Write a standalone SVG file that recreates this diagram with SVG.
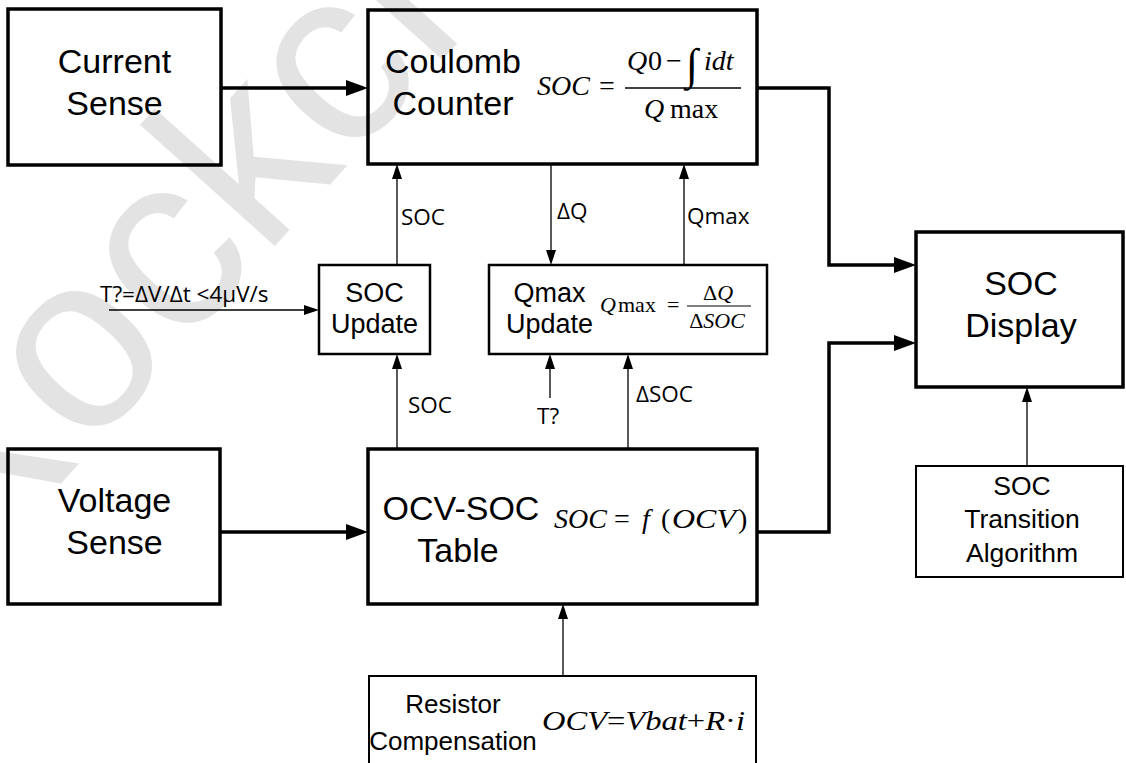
<svg xmlns="http://www.w3.org/2000/svg" width="1126" height="763" viewBox="0 0 1126 763">
<style>
.bx{fill:none;stroke:#000;stroke-linejoin:miter}
.thick{stroke-width:3.5}
.med{stroke-width:2.5}
.thin{stroke-width:2}
.t{font-family:"Liberation Sans",Arial,sans-serif;fill:#000;text-anchor:middle}
.f{font-family:"Liberation Serif","Times New Roman",serif;fill:#000}
.i{font-style:italic}
.lb{font-family:"Open Sans","DejaVu Sans",sans-serif;font-size:22.5px;fill:#000}
.cw{fill:none;stroke:#000;stroke-width:3.5}
.cn{fill:none;stroke:#000;stroke-width:1.3}
.wm{font-family:"Liberation Sans",Arial,sans-serif;font-size:250px;fill:#e3e3e3}
</style>
<defs>
<marker id="aw" markerUnits="userSpaceOnUse" markerWidth="22" markerHeight="16" refX="10" refY="8" orient="auto"><path d="M0,0 L22,8 L0,16 z" fill="#000"/></marker>
<marker id="an" markerUnits="userSpaceOnUse" markerWidth="15" markerHeight="10" refX="7" refY="5" orient="auto"><path d="M0,0 L15,5 L0,10 z" fill="#000"/></marker>
</defs>
<rect width="1126" height="763" fill="#fff"/>
<text class="wm" transform="translate(-34,589) rotate(-48)">Rockchip</text>

<g id="current-sense">
<rect class="bx thick" x="8" y="9" width="213" height="156"/>
<text class="t" font-size="34" x="114.5" y="73">Current</text>
<text class="t" font-size="34" x="114.5" y="115">Sense</text>
</g>

<g id="coulomb-counter">
<rect class="bx thick" x="368" y="10" width="389" height="154"/>
<text class="t" font-size="34" x="453" y="73">Coulomb</text>
<text class="t" font-size="34" x="453" y="115">Counter</text>
<text class="f i" font-size="28" x="537" y="95">SOC</text>
<text class="f" font-size="28" x="599" y="95">=</text>
<line x1="625" y1="88" x2="741" y2="88" stroke="#000" stroke-width="1.5"/>
<text class="f i" font-size="28" x="627" y="70">Q</text>
<text class="f" font-size="28" x="648" y="70">0</text>
<text class="f" font-size="28" x="666" y="70">−</text>
<text class="f" font-size="44" x="686" y="79">∫</text>
<text class="f i" font-size="28" x="704" y="70">idt</text>
<text class="f i" font-size="28" x="644" y="118">Q</text>
<text class="f" font-size="28" x="670" y="118">max</text>
</g>

<g id="soc-update">
<rect class="bx med" x="319" y="265" width="111" height="89"/>
<text class="t" font-size="27" x="374.5" y="302">SOC</text>
<text class="t" font-size="27" x="374.5" y="333">Update</text>
</g>

<g id="qmax-update">
<rect class="bx med" x="489" y="265" width="278" height="89"/>
<text class="t" font-size="27" x="549.5" y="302">Qmax</text>
<text class="t" font-size="27" x="549.5" y="333">Update</text>
<text class="f i" font-size="22" x="600" y="312">Q</text>
<text class="f" font-size="22" x="618" y="312">max</text>
<text class="f" font-size="22" x="667" y="312">=</text>
<line x1="687" y1="306" x2="751" y2="306" stroke="#000" stroke-width="1.2"/>
<text class="f" font-size="22" x="718" y="300" text-anchor="middle">Δ<tspan class="i">Q</tspan></text>
<text class="f" font-size="22" x="717" y="328" text-anchor="middle">Δ<tspan class="i">SOC</tspan></text>
</g>

<g id="voltage-sense">
<rect class="bx thick" x="8" y="449" width="212" height="155"/>
<text class="t" font-size="34" x="114.5" y="512">Voltage</text>
<text class="t" font-size="34" x="114.5" y="554">Sense</text>
</g>

<g id="ocv-soc-table">
<rect class="bx thick" x="368" y="449" width="389" height="155"/>
<text class="t" font-size="34" x="461" y="520">OCV-SOC</text>
<text class="t" font-size="34" x="458" y="562">Table</text>
<text class="f i" font-size="28" x="554" y="528">SOC</text>
<text class="f" font-size="28" x="614" y="528">=</text>
<text class="f i" font-size="28" x="642" y="528">f</text>
<text class="f" font-size="28" x="661" y="528">(</text>
<text class="f i" font-size="28" x="672" y="528" textLength="64" lengthAdjust="spacingAndGlyphs">OCV</text>
<text class="f" font-size="28" x="738" y="528">)</text>
</g>

<g id="resistor-compensation">
<rect class="bx thin" x="369" y="676" width="387" height="100"/>
<text class="t" font-size="26" x="453" y="713">Resistor</text>
<text class="t" font-size="26" x="453" y="750">Compensation</text>
<text class="f i" font-size="28" x="542" y="730" textLength="203" lengthAdjust="spacingAndGlyphs">OCV<tspan font-style="normal">=</tspan>Vbat<tspan font-style="normal">+</tspan>R<tspan font-style="normal">·</tspan>i</text>
</g>

<g id="soc-display">
<rect class="bx thick" x="916" y="232" width="207" height="155"/>
<text class="t" font-size="34" x="1021" y="295">SOC</text>
<text class="t" font-size="34" x="1021" y="337">Display</text>
</g>

<g id="soc-transition">
<rect class="bx thin" x="916" y="466" width="207" height="111"/>
<text class="t" font-size="26.5" x="1022" y="495">SOC</text>
<text class="t" font-size="26.5" x="1022" y="528">Transition</text>
<text class="t" font-size="26.5" x="1022" y="562">Algorithm</text>
</g>

<g id="connectors">
<path class="cw" d="M221,88 H356" marker-end="url(#aw)"/>
<path class="cw" d="M757,88 H829 V265 H904" marker-end="url(#aw)"/>
<path class="cw" d="M220,532 H356" marker-end="url(#aw)"/>
<path class="cw" d="M757,532 H829 V343 H904" marker-end="url(#aw)"/>
<path class="cn" d="M397,265 V172" marker-end="url(#an)"/>
<path class="cn" d="M551,164 V257" marker-end="url(#an)"/>
<path class="cn" d="M684,265 V172" marker-end="url(#an)"/>
<path class="cn" d="M109,310 H311" marker-end="url(#an)"/>
<path class="cn" d="M397,449 V362" marker-end="url(#an)"/>
<path class="cn" d="M550,398 V362" marker-end="url(#an)"/>
<path class="cn" d="M628,449 V362" marker-end="url(#an)"/>
<path class="cn" d="M563,676 V612" marker-end="url(#an)"/>
<path class="cn" d="M1027,466 V395" marker-end="url(#an)"/>
<text class="lb" x="401" y="225">SOC</text>
<text class="lb" x="557" y="219">ΔQ</text>
<text class="lb" x="687" y="224">Qmax</text>
<text class="lb" x="100" y="302" font-size="25.5">T?=ΔV/Δt &lt;4μV/s</text>
<text class="lb" x="408" y="413">SOC</text>
<text class="lb" x="537" y="424">T?</text>
<text class="lb" x="636" y="402">ΔSOC</text>
</g>
</svg>
